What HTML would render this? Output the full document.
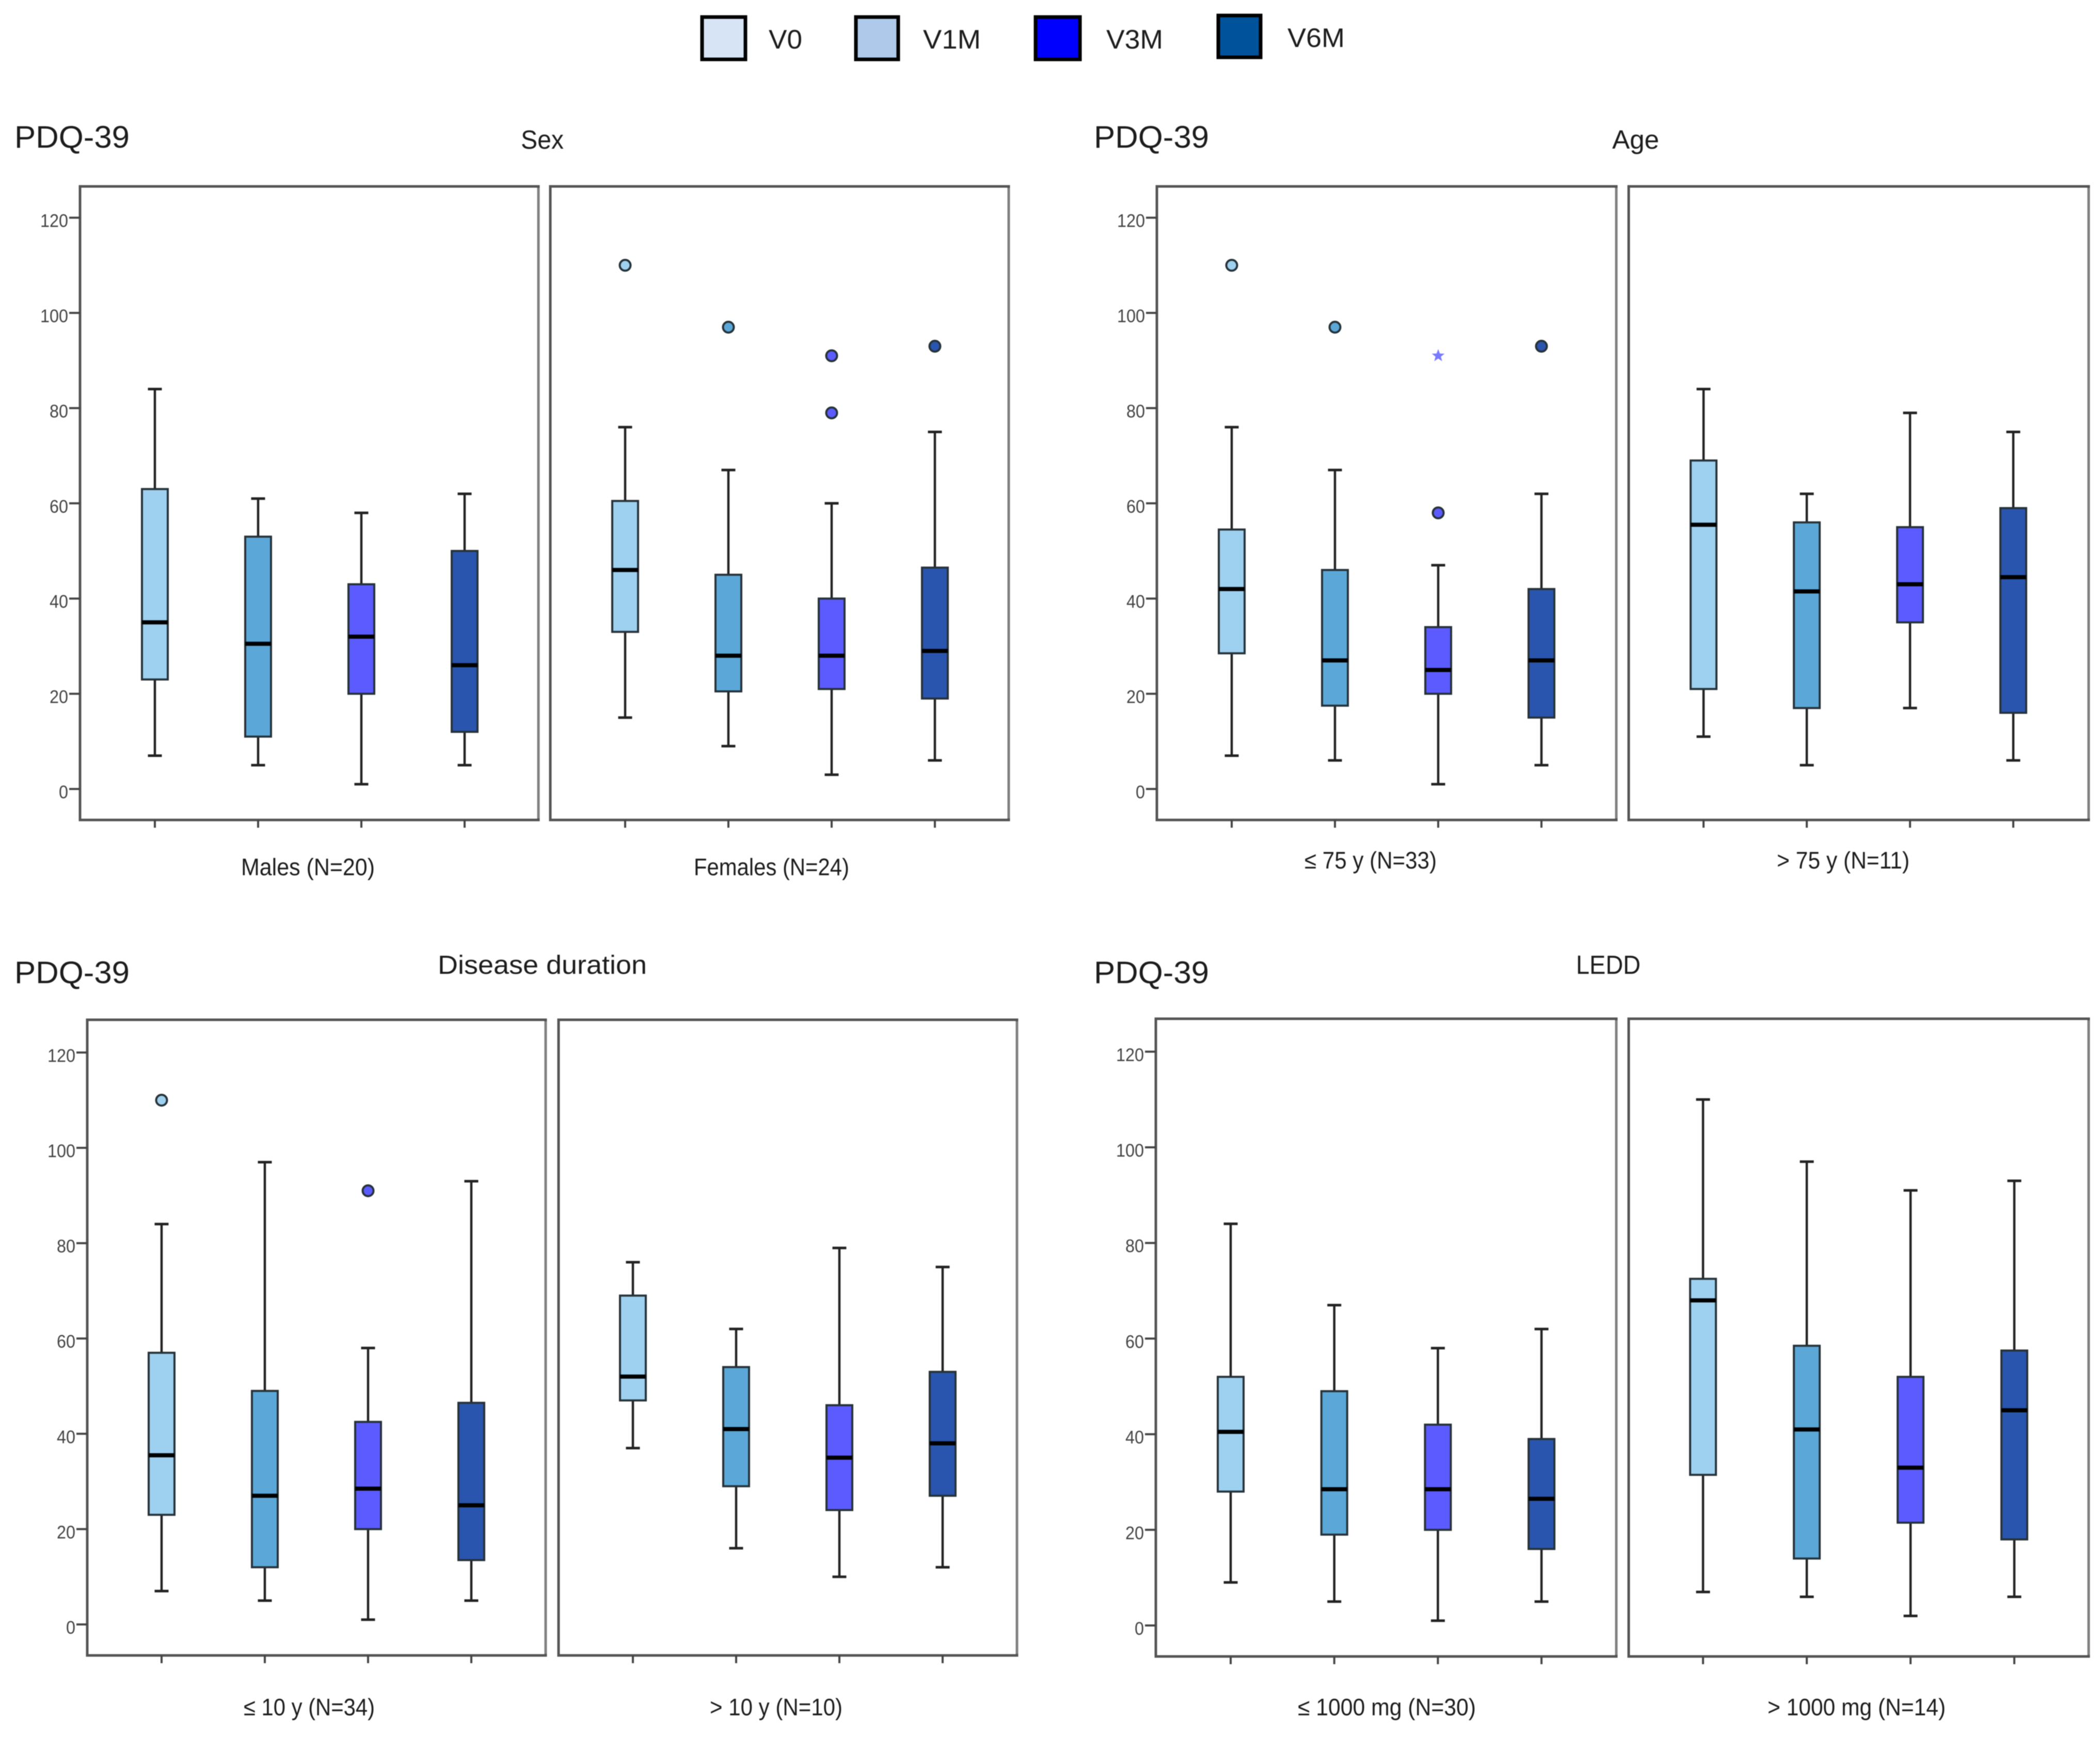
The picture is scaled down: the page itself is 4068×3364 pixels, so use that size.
<!DOCTYPE html>
<html lang="en">
<head>
<meta charset="utf-8">
<title>PDQ-39 box plots by subgroup</title>
<style>
html,body{margin:0;padding:0;background:#fff;}
svg{display:block;filter:blur(0.7px);}
text{font-family:"Liberation Sans",sans-serif;fill:#1c1c1c;}
.h1{font-size:60px;}
.h2{font-size:51px;}
.lab{font-size:46px;}
.leg{font-size:52px;}
.tick{font-size:35px;fill:#444;}
</style>
</head>
<body>
<svg id="chart" xmlns="http://www.w3.org/2000/svg" width="4068" height="3364" viewBox="0 0 4068 3364">
  <rect x="0" y="0" width="4068" height="3364" fill="#ffffff"/>
  <g>
    <rect x="1360" y="33" width="84" height="82" fill="#d6e4f5" stroke="#000" stroke-width="7"/>
    <text class="leg" x="1489" y="94" textLength="65" lengthAdjust="spacingAndGlyphs">V0</text>
    <rect x="1658" y="33" width="82" height="82" fill="#aec9ea" stroke="#000" stroke-width="7"/>
    <text class="leg" x="1788" y="94" textLength="112" lengthAdjust="spacingAndGlyphs">V1M</text>
    <rect x="2006" y="33" width="86" height="82" fill="#0000ff" stroke="#000" stroke-width="7"/>
    <text class="leg" x="2143" y="94" textLength="110" lengthAdjust="spacingAndGlyphs">V3M</text>
    <rect x="2360" y="30" width="82" height="81" fill="#00529b" stroke="#000" stroke-width="7"/>
    <text class="leg" x="2494" y="91" textLength="111" lengthAdjust="spacingAndGlyphs">V6M</text>
  </g>

  <text class="h1" x="28" y="286" textLength="223" lengthAdjust="spacingAndGlyphs">PDQ-39</text>
  <text class="h1" x="2119" y="286" textLength="223" lengthAdjust="spacingAndGlyphs">PDQ-39</text>
  <text class="h1" x="28" y="1904" textLength="223" lengthAdjust="spacingAndGlyphs">PDQ-39</text>
  <text class="h1" x="2119" y="1904" textLength="223" lengthAdjust="spacingAndGlyphs">PDQ-39</text>

  <text class="h2" x="1009" y="288" textLength="83" lengthAdjust="spacingAndGlyphs">Sex</text>
  <text class="h2" x="3123" y="288" textLength="91" lengthAdjust="spacingAndGlyphs">Age</text>
  <text class="h2" x="848" y="1886" textLength="405" lengthAdjust="spacingAndGlyphs">Disease duration</text>
  <text class="h2" x="3053" y="1886" textLength="125" lengthAdjust="spacingAndGlyphs">LEDD</text>

  <text class="lab" x="467" y="1695" textLength="259" lengthAdjust="spacingAndGlyphs">Males (N=20)</text>
  <text class="lab" x="1344" y="1695" textLength="301" lengthAdjust="spacingAndGlyphs">Females (N=24)</text>
  <text class="lab" x="2527" y="1682" textLength="256" lengthAdjust="spacingAndGlyphs">≤ 75 y (N=33)</text>
  <text class="lab" x="3442" y="1682" textLength="257" lengthAdjust="spacingAndGlyphs">&gt; 75 y (N=11)</text>
  <text class="lab" x="472" y="3322" textLength="254" lengthAdjust="spacingAndGlyphs">≤ 10 y (N=34)</text>
  <text class="lab" x="1375" y="3322" textLength="257" lengthAdjust="spacingAndGlyphs">&gt; 10 y (N=10)</text>
  <text class="lab" x="2514" y="3322" textLength="345" lengthAdjust="spacingAndGlyphs">≤ 1000 mg (N=30)</text>
  <text class="lab" x="3424" y="3322" textLength="345" lengthAdjust="spacingAndGlyphs">&gt; 1000 mg (N=14)</text>
</svg>

<script>
// ---- Data: visits, ticks, and per-panel statistics [min, q1, median, q3, max] ----
const visits = ['v0', 'v1m', 'v3m', 'v6m'];
const yTickLabels = [0, 20, 40, 60, 80, 100, 120];

const malesStats = [[7, 23, 35, 63, 84], [5, 11, 30.5, 53, 61], [1, 20, 32, 43, 58], [5, 12, 26, 50, 62]];
const malesOutliers = [[], [], [], []];
const malesExtremes = [[], [], [], []];

const femalesStats = [[15, 33, 46, 60.5, 76], [9, 20.5, 28, 45, 67], [3, 21, 28, 40, 60], [6, 19, 29, 46.5, 75]];
const femalesOutliers = [[110], [97], [91, 79], [93]];
const femalesExtremes = [[], [], [], []];

const ageLowStats = [[7, 28.5, 42, 54.5, 76], [6, 17.5, 27, 46, 67], [1, 20, 25, 34, 47], [5, 15, 27, 42, 62]];
const ageLowOutliers = [[110], [97], [58], [93]];
const ageLowExtremes = [[], [], [91], []];

const ageHighStats = [[11, 21, 55.5, 69, 84], [5, 17, 41.5, 56, 62], [17, 35, 43, 55, 79], [6, 16, 44.5, 59, 75]];
const ageHighOutliers = [[], [], [], []];
const ageHighExtremes = [[], [], [], []];

const durationLowStats = [[7, 23, 35.5, 57, 84], [5, 12, 27, 49, 97], [1, 20, 28.5, 42.5, 58], [5, 13.5, 25, 46.5, 93]];
const durationLowOutliers = [[110], [], [91], []];
const durationLowExtremes = [[], [], [], []];

const durationHighStats = [[37, 47, 52, 69, 76], [16, 29, 41, 54, 62], [10, 24, 35, 46, 79], [12, 27, 38, 53, 75]];
const durationHighOutliers = [[], [], [], []];
const durationHighExtremes = [[], [], [], []];

const leddLowStats = [[9, 28, 40.5, 52, 84], [5, 19, 28.5, 49, 67], [1, 20, 28.5, 42, 58], [5, 16, 26.5, 39, 62]];
const leddLowOutliers = [[], [], [], []];
const leddLowExtremes = [[], [], [], []];

const leddHighStats = [[7, 31.5, 68, 72.5, 110], [6, 14, 41, 58.5, 97], [2, 21.5, 33, 52, 91], [6, 18, 45, 57.5, 93]];
const leddHighOutliers = [[], [], [], []];
const leddHighExtremes = [[], [], [], []];

// ---- Layout and styling ----
const boxColors = ['#9ed0f0', '#5ba8d8', '#5b5bff', '#2a55ae'];
const panelLayout = [
  { id: 'males', left: 155, width: 888, top: 361, bottom: 1588, zero: 1528, unit: 9.22, first: 145, band: 200, axis: true, stats: malesStats, outliers: malesOutliers, extremes: malesExtremes },
  { id: 'females', left: 1066, width: 888, top: 361, bottom: 1588, zero: 1528, unit: 9.22, first: 145, band: 200, axis: false, stats: femalesStats, outliers: femalesOutliers, extremes: femalesExtremes },
  { id: 'age-low', left: 2241, width: 890, top: 361, bottom: 1588, zero: 1528, unit: 9.22, first: 145, band: 200, axis: true, stats: ageLowStats, outliers: ageLowOutliers, extremes: ageLowExtremes },
  { id: 'age-high', left: 3155, width: 891, top: 361, bottom: 1588, zero: 1528, unit: 9.22, first: 145, band: 200, axis: false, stats: ageHighStats, outliers: ageHighOutliers, extremes: ageHighExtremes },
  { id: 'duration-low', left: 169, width: 888, top: 1975, bottom: 3206, zero: 3146, unit: 9.23, first: 144, band: 200, axis: true, stats: durationLowStats, outliers: durationLowOutliers, extremes: durationLowExtremes },
  { id: 'duration-high', left: 1082, width: 888, top: 1975, bottom: 3206, zero: 3146, unit: 9.23, first: 144, band: 200, axis: false, stats: durationHighStats, outliers: durationHighOutliers, extremes: durationHighExtremes },
  { id: 'ledd-low', left: 2239, width: 892, top: 1973, bottom: 3208, zero: 3148, unit: 9.26, first: 145, band: 200.7, axis: true, stats: leddLowStats, outliers: leddLowOutliers, extremes: leddLowExtremes },
  { id: 'ledd-high', left: 3155, width: 891, top: 1973, bottom: 3208, zero: 3148, unit: 9.26, first: 144, band: 201, axis: false, stats: leddHighStats, outliers: leddHighOutliers, extremes: leddHighExtremes }
];
const BOX_W = 50;
const CAP_W = 27;

const svg = document.getElementById('chart');
const NS = 'http://www.w3.org/2000/svg';

function make(parent, tag, attrs) {
  const el = document.createElementNS(NS, tag);
  for (const k in attrs) el.setAttribute(k, attrs[k]);
  parent.appendChild(el);
  return el;
}

function starPoints(cx, cy, R) {
  const pts = [];
  for (let i = 0; i < 10; i++) {
    const r = i % 2 === 0 ? R : R * 0.42;
    const a = -Math.PI / 2 + i * Math.PI / 5;
    pts.push((cx + r * Math.cos(a)).toFixed(1) + ',' + (cy + r * Math.sin(a)).toFixed(1));
  }
  return pts.join(' ');
}

panelLayout.forEach(function (p) {
  const xScale = function (i) { return p.left + p.first + p.band * i; };
  const yScale = function (v) { return p.zero - v * p.unit; };

  const g = make(svg, 'g', {});
  
  

  const frame = make(g, 'rect', { x: p.left, y: p.top, width: p.width, height: p.bottom - p.top, fill: '#fff', stroke: '#555', 'stroke-width': 5 });
  
  

  const rightEdge = make(g, 'line', { x1: p.left + p.width, x2: p.left + p.width, y1: p.top + 3, y2: p.bottom - 3, stroke: '#808080', 'stroke-width': 5 });
  
  

  if (p.axis) {
    yTickLabels.forEach(function (t) {
      const tick = make(g, 'line', { x1: p.left - 21, x2: p.left, y1: yScale(t), y2: yScale(t), stroke: '#444', 'stroke-width': 4 });
      
      
      const label = make(g, 'text', { x: p.left - 23, y: yScale(t) + 18, 'text-anchor': 'end', class: 'tick', textLength: String(t).length * 18, lengthAdjust: 'spacingAndGlyphs' });
      label.textContent = String(t);
      
      
    });
  }

  visits.forEach(function (visit, i) {
    const x = xScale(i);
    const s = p.stats[i];
    const color = boxColors[i];

    const xTick = make(g, 'line', { x1: x, x2: x, y1: p.bottom, y2: p.bottom + 15, stroke: '#444', 'stroke-width': 4 });
    
    

    const whisker = make(g, 'line', { x1: x, x2: x, y1: yScale(s[0]), y2: yScale(s[4]), stroke: '#222', 'stroke-width': 4.5 });
    
    

    const capLow = make(g, 'line', { x1: x - CAP_W / 2, x2: x + CAP_W / 2, y1: yScale(s[0]), y2: yScale(s[0]), stroke: '#222', 'stroke-width': 5 });
    
    

    const capHigh = make(g, 'line', { x1: x - CAP_W / 2, x2: x + CAP_W / 2, y1: yScale(s[4]), y2: yScale(s[4]), stroke: '#222', 'stroke-width': 5 });
    
    

    const box = make(g, 'rect', { x: x - BOX_W / 2, y: yScale(s[3]), width: BOX_W, height: yScale(s[1]) - yScale(s[3]), fill: color, stroke: '#263238', 'stroke-width': 4 });
    
    

    const median = make(g, 'line', { x1: x - BOX_W / 2, x2: x + BOX_W / 2, y1: yScale(s[2]), y2: yScale(s[2]), stroke: '#000', 'stroke-width': 8 });
    
    

    p.outliers[i].forEach(function (v) {
      const dot = make(g, 'circle', { cx: x, cy: yScale(v), r: 10.5, fill: color, stroke: '#263238', 'stroke-width': 4 });
      
      
    });

    p.extremes[i].forEach(function (v) {
      const star = make(g, 'polygon', { points: starPoints(x, yScale(v), 13), fill: '#7a7aff' });
      
      
    });
  });
});
</script>
</body>
</html>
